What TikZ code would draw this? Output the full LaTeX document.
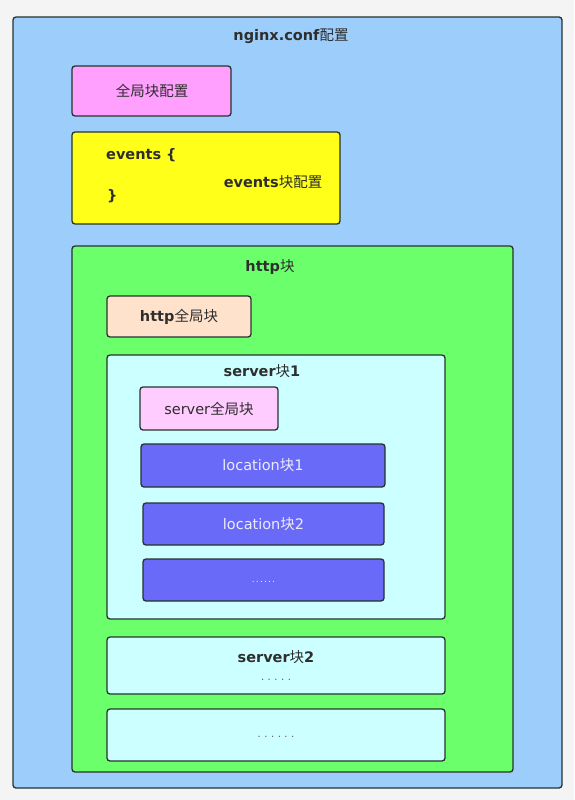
\documentclass[tikz,border=0pt]{standalone}
\usepackage{fontspec}
\setmainfont{DejaVu Sans}
\newfontfamily\cjk{Noto Sans CJK SC}
\definecolor{bgc}{HTML}{F4F4F4}
\definecolor{confc}{HTML}{9DCDFB}
\definecolor{pinkc}{HTML}{FFA0FF}
\definecolor{yelc}{HTML}{FFFF1A}
\definecolor{greenc}{HTML}{6CFF6C}
\definecolor{peachc}{HTML}{FFE2CC}
\definecolor{cyanc}{HTML}{CCFFFF}
\definecolor{spinkc}{HTML}{FFCCFF}
\definecolor{locc}{HTML}{6A6AF8}
\definecolor{edgec}{HTML}{26332D}
\definecolor{txtc}{HTML}{2E2E2E}
\tikzset{
  blk/.style={draw=edgec, line width=1.3pt, rounded corners=3pt, inner sep=0pt},
  lbl/.style={text=txtc, font=\fontsize{14.5}{16}\selectfont, inner sep=0pt},
  wlbl/.style={text=white!92!blue, font=\fontsize{14.5}{16}\selectfont, inner sep=0pt},
  dots/.style={text=txtc!80, font=\fontsize{10}{11}\selectfont, inner sep=0pt},
}
\newcommand{\zh}[1]{{\cjk\mdseries #1}}
\newcommand{\sdots}[2]{\foreach \i in {1,...,#1}{.\hspace{#2}}\unskip}
\begin{document}
\begin{tikzpicture}[x=1pt,y=-1pt]
\useasboundingbox (0,0) rectangle (574,800);
\fill[bgc] (0,0) rectangle (574,800);
% outer conf
\node[blk, fill=confc, minimum width=549pt, minimum height=771pt] (conf) at (287.5,402.5) {};
\node[lbl] (conft) at (291,36) {\bfseries nginx.conf\zh{配置}};
% global
\node[blk, fill=pinkc, minimum width=159pt, minimum height=50pt] (glob) at (151.5,91) {};
\node[lbl] (globt) at (152,91) {\zh{全局块配置}};
% events
\node[blk, fill=yelc, minimum width=268pt, minimum height=92pt] (ev) at (206,178) {};
\node[lbl, anchor=west] (ev1) at (106,155) {\bfseries events \{};
\node[lbl, anchor=west] (ev2) at (107,196) {\bfseries \}};
\node[lbl] (ev3) at (273,182) {\bfseries events\zh{块配置}};
% http
\node[blk, fill=greenc, minimum width=441pt, minimum height=526pt] (http) at (292.5,509) {};
\node[lbl] (httpt) at (270,267) {\bfseries http\zh{块}};
\node[blk, fill=peachc, minimum width=144pt, minimum height=41pt] (hglob) at (179,316.5) {};
\node[lbl] (hglobt) at (hglob) {\bfseries http\zh{全局块}};
% server 1
\node[blk, fill=cyanc, minimum width=338pt, minimum height=264pt] (s1) at (276,487) {};
\node[lbl] (s1t) at (262,371) {\bfseries server\zh{块}1};
\node[blk, fill=spinkc, minimum width=138pt, minimum height=43pt] (sglob) at (209,408.5) {};
\node[lbl] (sglobt) at (sglob) {server\zh{全局块}};
\node[blk, fill=locc, minimum width=244pt, minimum height=43pt] (loc1) at (263,465.5) {};
\node[wlbl] (loc1t) at (loc1) {location\zh{块}1};
\node[blk, fill=locc, minimum width=241pt, minimum height=42pt] (loc2) at (263.5,524) {};
\node[wlbl] (loc2t) at (loc2) {location\zh{块}2};
\node[blk, fill=locc, minimum width=241pt, minimum height=42pt] (loc3) at (263.5,580) {};
\node[wlbl, font=\fontsize{9}{10}\selectfont] (loc3t) at (263.5,582) {\sdots{6}{1.2pt}};
% server 2
\node[blk, fill=cyanc, minimum width=338pt, minimum height=57pt] (s2) at (276,665.5) {};
\node[lbl] (s2t) at (276,657) {\bfseries server\zh{块}2};
\node[dots] (s2d) at (276,680) {\sdots{5}{3.5pt}};
% more
\node[blk, fill=cyanc, minimum width=338pt, minimum height=52pt] (s3) at (276,735) {};
\node[dots] (s3d) at (276,737) {\sdots{6}{3.5pt}};
\end{tikzpicture}
\end{document}
